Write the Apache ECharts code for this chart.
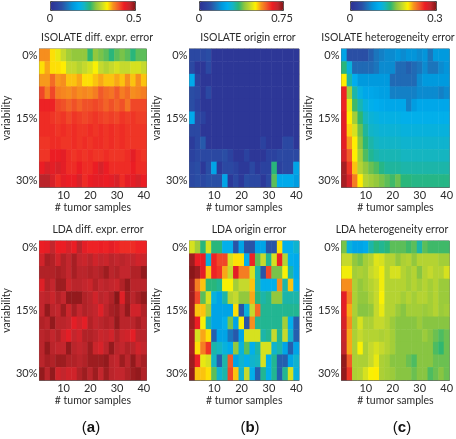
<html style="height: 100%">
<head>
	<meta charset="utf-8">
	<script type="text/javascript" src="https://cdn.jsdelivr.net/npm/echarts@6/dist/echarts.min.js"></script>
</head>

<body style="height: 100%; margin: 0; background: #fff">
	<div id="container" style="height:439px;width:456px"></div>
</body>

<script type="text/javascript">
	// axis categories
	const samples = [2, 4, 6, 8, 10, 12, 14, 16, 18, 20, 22, 24, 26, 28, 30, 32, 34, 36, 38, 40];
	const variability = ['0%', '3%', '6%', '9%', '12%', '15%', '18%', '21%', '24%', '27%', '30%'];

	// colourbar maxima per column
	const scaleA = 0.5;
	const scaleB = 0.75;
	const scaleC = 0.3;

	// cell values, as % of the colourbar range
	const isolateDiff = [
		[74, 74, 68, 64, 60, 56, 54, 54, 54, 47, 54, 52, 50, 46, 50, 52, 50, 46, 50, 50],
		[68, 72, 68, 68, 67, 60, 60, 58, 60, 62, 66, 60, 58, 60, 62, 60, 60, 62, 62, 60],
		[73, 73, 78, 73, 74, 70, 70, 72, 68, 68, 70, 72, 70, 70, 72, 70, 74, 70, 74, 70],
		[82, 76, 82, 76, 75, 74, 76, 74, 75, 74, 76, 80, 78, 77, 80, 76, 78, 74, 75, 76],
		[86, 86, 86, 82, 81, 79, 81, 79, 81, 81, 82, 81, 79, 81, 79, 81, 77, 82, 82, 82],
		[85, 85, 84, 83, 84, 82, 84, 83, 82, 83, 84, 83, 82, 83, 82, 84, 83, 84, 83, 83],
		[85, 85, 85, 84, 85, 84, 85, 84, 84, 85, 84, 85, 84, 85, 84, 85, 84, 84, 84, 84],
		[84, 84, 85, 85, 84, 84, 85, 84, 85, 84, 85, 85, 84, 85, 84, 85, 84, 84, 84, 84],
		[84, 84, 87, 87, 88, 85, 84, 85, 84, 85, 84, 84, 85, 84, 84, 84, 85, 88, 85, 84],
		[87, 90, 88, 90, 88, 85, 85, 87, 85, 85, 87, 90, 87, 85, 85, 85, 85, 87, 85, 85],
		[94, 94, 90, 85, 88, 87, 87, 90, 85, 87, 88, 88, 87, 88, 90, 85, 88, 88, 90, 87]
	];
	const isolateOrigin = [
		[10, 10, 10, 12, 3, 3, 3, 3, 3, 3, 3, 3, 3, 3, 3, 3, 3, 3, 3, 3],
		[10, 3, 3, 10, 3, 3, 3, 3, 3, 3, 3, 3, 3, 3, 3, 3, 3, 3, 3, 3],
		[32, 8, 3, 3, 3, 3, 3, 3, 3, 3, 3, 3, 3, 3, 3, 3, 3, 3, 3, 3],
		[12, 10, 3, 10, 3, 3, 3, 3, 3, 3, 3, 3, 3, 3, 3, 3, 3, 3, 3, 3],
		[12, 8, 3, 3, 3, 3, 3, 3, 3, 3, 3, 3, 3, 3, 3, 3, 3, 3, 3, 3],
		[32, 10, 8, 3, 3, 3, 3, 3, 3, 3, 3, 3, 3, 3, 3, 3, 3, 3, 3, 3],
		[10, 10, 3, 3, 3, 3, 3, 3, 3, 3, 3, 3, 3, 3, 3, 3, 3, 3, 3, 3],
		[5, 10, 15, 3, 3, 3, 3, 3, 3, 3, 3, 3, 3, 8, 3, 3, 3, 10, 10, 3],
		[8, 10, 10, 10, 10, 10, 12, 8, 3, 3, 8, 3, 3, 3, 8, 8, 10, 10, 10, 10],
		[10, 12, 4, 12, 30, 4, 10, 10, 8, 4, 4, 10, 4, 8, 8, 46, 8, 10, 10, 30],
		[10, 12, 10, 13, 13, 13, 30, 4, 10, 4, 12, 10, 10, 4, 10, 50, 32, 32, 32, 28]
	];
	const isolateHetero = [
		[30, 13, 13, 13, 13, 16, 20, 22, 24, 24, 26, 24, 26, 26, 24, 26, 20, 27, 27, 27],
		[46, 36, 18, 18, 18, 18, 20, 24, 24, 24, 18, 18, 16, 18, 20, 24, 20, 20, 24, 26],
		[67, 42, 33, 27, 27, 27, 27, 27, 27, 18, 18, 18, 18, 18, 24, 27, 27, 27, 27, 27],
		[86, 56, 42, 35, 31, 31, 30, 29, 29, 22, 22, 22, 22, 22, 24, 24, 24, 24, 22, 24],
		[86, 64, 48, 41, 36, 34, 33, 32, 31, 31, 31, 31, 22, 28, 31, 31, 31, 31, 31, 31],
		[88, 67, 56, 47, 40, 37, 36, 35, 35, 35, 35, 34, 34, 34, 34, 34, 34, 34, 34, 34],
		[88, 69, 62, 51, 43, 39, 38, 37, 37, 37, 37, 36, 36, 36, 36, 36, 36, 36, 36, 36],
		[88, 73, 67, 53, 46, 42, 40, 39, 39, 39, 39, 38, 38, 38, 38, 38, 38, 38, 38, 38],
		[90, 80, 67, 56, 49, 44, 42, 41, 41, 41, 41, 40, 40, 40, 40, 40, 40, 40, 40, 40],
		[96, 84, 70, 58, 54, 51, 49, 45, 43, 43, 43, 42, 42, 42, 42, 42, 42, 42, 42, 42],
		[96, 90, 76, 67, 58, 56, 54, 52, 50, 48, 51, 46, 46, 45, 45, 45, 45, 45, 45, 45]
	];
	const ldaDiff = [
		[87, 88, 93, 87, 87, 90, 87, 94, 88, 86, 86, 87, 86, 88, 86, 85, 85, 85, 86, 86],
		[91, 96, 95, 91, 95, 93, 96, 93, 92, 94, 91, 93, 92, 94, 93, 94, 93, 93, 91, 92],
		[95, 95, 95, 96, 95, 93, 96, 94, 94, 95, 94, 95, 97, 94, 95, 93, 93, 95, 95, 98],
		[89, 95, 93, 97, 97, 92, 94, 94, 93, 92, 95, 93, 94, 93, 92, 95, 98, 94, 94, 94],
		[93, 94, 92, 95, 93, 98, 98, 98, 95, 94, 91, 94, 93, 95, 99, 89, 97, 94, 96, 98],
		[93, 98, 94, 93, 97, 92, 96, 93, 95, 94, 93, 89, 94, 96, 97, 94, 98, 91, 91, 95],
		[95, 94, 98, 94, 94, 93, 88, 91, 88, 95, 93, 94, 95, 94, 98, 94, 94, 94, 96, 94],
		[94, 95, 93, 95, 91, 88, 93, 91, 95, 95, 94, 92, 93, 91, 95, 92, 91, 88, 94, 94],
		[94, 98, 94, 93, 93, 98, 94, 93, 94, 97, 92, 90, 94, 98, 94, 93, 95, 94, 91, 93],
		[94, 96, 95, 97, 97, 95, 95, 94, 95, 97, 97, 97, 98, 94, 93, 97, 94, 98, 94, 96],
		[98, 94, 98, 91, 93, 91, 91, 95, 97, 94, 97, 93, 97, 94, 93, 93, 95, 97, 98, 95]
	];
	const ldaOrigin = [
		[62, 56, 46, 62, 46, 46, 34, 34, 14, 30, 14, 14, 30, 30, 14, 14, 68, 34, 34, 38],
		[97, 87, 87, 36, 86, 82, 82, 62, 68, 68, 34, 86, 50, 60, 44, 62, 86, 58, 34, 32],
		[99, 97, 88, 70, 86, 84, 72, 60, 88, 76, 76, 62, 42, 14, 82, 52, 52, 66, 42, 32],
		[97, 76, 70, 46, 46, 44, 66, 66, 56, 60, 60, 70, 42, 34, 34, 34, 74, 42, 70, 34],
		[97, 82, 50, 62, 36, 30, 42, 58, 60, 54, 54, 72, 46, 42, 44, 54, 54, 42, 42, 42],
		[97, 70, 70, 56, 30, 30, 30, 30, 68, 14, 36, 60, 78, 44, 44, 44, 44, 44, 44, 44],
		[97, 87, 66, 42, 30, 30, 34, 52, 30, 66, 14, 74, 44, 44, 44, 44, 44, 56, 34, 16],
		[96, 62, 72, 68, 16, 30, 30, 20, 15, 30, 62, 62, 62, 42, 44, 60, 44, 60, 38, 16],
		[96, 68, 76, 84, 42, 40, 36, 32, 54, 36, 50, 34, 42, 62, 62, 38, 42, 30, 16, 30],
		[97, 86, 64, 62, 40, 16, 42, 80, 30, 38, 34, 38, 40, 62, 34, 44, 16, 16, 30, 38],
		[98, 70, 70, 68, 50, 38, 42, 82, 70, 38, 60, 34, 16, 44, 34, 44, 16, 44, 62, 36]
	];
	const ldaHetero = [
		[52, 36, 30, 30, 32, 42, 46, 44, 46, 50, 50, 50, 48, 50, 42, 50, 48, 48, 48, 48],
		[60, 60, 54, 52, 56, 58, 63, 62, 58, 58, 54, 57, 58, 54, 58, 58, 58, 58, 56, 56],
		[65, 65, 56, 57, 56, 60, 62, 65, 58, 62, 62, 58, 56, 58, 53, 58, 60, 58, 58, 62],
		[74, 74, 57, 54, 56, 58, 60, 65, 58, 58, 58, 58, 56, 58, 56, 58, 56, 58, 55, 55],
		[88, 76, 57, 54, 54, 57, 60, 66, 58, 58, 58, 56, 58, 56, 58, 58, 56, 58, 55, 55],
		[88, 72, 57, 53, 53, 54, 60, 64, 58, 58, 55, 53, 56, 56, 56, 55, 56, 58, 55, 56],
		[90, 74, 56, 62, 57, 57, 60, 60, 58, 55, 53, 53, 53, 53, 55, 53, 53, 53, 53, 53],
		[92, 72, 57, 60, 58, 58, 58, 57, 58, 56, 53, 53, 53, 53, 53, 55, 53, 51, 49, 51],
		[93, 72, 57, 66, 57, 60, 62, 60, 58, 56, 53, 53, 53, 53, 53, 53, 53, 49, 47, 51],
		[98, 80, 57, 57, 57, 60, 64, 57, 56, 53, 53, 53, 51, 49, 53, 53, 53, 51, 51, 51],
		[98, 84, 57, 58, 62, 66, 67, 57, 56, 55, 53, 53, 53, 51, 53, 53, 49, 51, 53, 51]
	];

	// jet like colours of the printed colourbar
	const jet = ['#2e3192', '#2b3f9e', '#2a50a5', '#1b75bc', '#0099dd', '#00aeef', '#15b5c0', '#2bb673', '#8dc63f', '#c5d92d', '#fff200', '#f7941d', '#f15a29', '#ed1c24', '#c1272d', '#7f1416'];

	const textColor = '#2b2b2b';
	const fontFamily = 'Lato, sans-serif';
	const tickSize = 11;
	const textSize = 10.5;

	var myChart = echarts.init(document.getElementById('container'));

	// grid rectangles: left, top, width, height
	const panels = [
		{ title: 'ISOLATE diff. expr. error', titleX: 97, titleY: 38, box: [37.5, 49, 109, 138], cells: isolateDiff, scale: scaleA },
		{ title: 'ISOLATE origin error', titleX: 248, titleY: 38, box: [189.5, 49, 109.5, 138], cells: isolateOrigin, scale: scaleB },
		{ title: 'ISOLATE heterogeneity error', titleX: 388, titleY: 38, box: [341.5, 49, 110, 138], cells: isolateHetero, scale: scaleC },
		{ title: 'LDA diff. expr. error', titleX: 98, titleY: 230, box: [37.5, 241, 109, 139], cells: ldaDiff, scale: scaleA },
		{ title: 'LDA origin error', titleX: 249, titleY: 230, box: [189.5, 241, 109.5, 139], cells: ldaOrigin, scale: scaleB },
		{ title: 'LDA heterogeneity error', titleX: 392, titleY: 230, box: [341.5, 241, 110, 139], cells: ldaHetero, scale: scaleC }
	];

	const bars = [
		{ left: 50, width: 85, max: scaleA },
		{ left: 199, width: 84, max: scaleB },
		{ left: 350, width: 86, max: scaleC }
	];

	function toCells(rows, scale) {
		let out = [];
		rows.forEach((row, r) => row.forEach((v, c) => out.push([c, r, v / 100 * scale])));
		return out;
	}

	function label(text, x, y, size) {
		return {
			text: text, left: x, top: y, textAlign: 'center', textVerticalAlign: 'middle', padding: 0,
			textStyle: { fontFamily: fontFamily, fontSize: size, fontWeight: 'normal', color: textColor }
		};
	}

	let titles = [];
	panels.forEach(p => titles.push(label(p.title, p.titleX, p.titleY, textSize)));
	bars.forEach(b => {
		titles.push(label('0', b.left, 18, tickSize));
		titles.push(label(String(b.max), b.left + b.width - 1, 18, tickSize));
	});
	['a', 'b', 'c'].forEach((s, i) => {
		titles.push({
			text: '({b|' + s + '})', left: [91, 250, 402][i], top: 428, textAlign: 'center', textVerticalAlign: 'middle', padding: 0,
			textStyle: {
				fontFamily: 'Liberation Sans', fontSize: 15, color: '#111', fontWeight: 'normal',
				rich: { b: { fontFamily: 'Liberation Sans', fontSize: 15, fontWeight: 'bold', color: '#111' } }
			}
		});
	});

	var option = {
		animation: false,
		backgroundColor: '#fff',
		title: titles,
		visualMap: bars.map((b, i) => ({
			type: 'continuous',
			min: 0,
			max: b.max,
			seriesIndex: [i, i + 3],
			orient: 'horizontal',
			left: b.left,
			top: 1,
			itemWidth: 9,
			itemHeight: b.width,
			padding: 0,
			text: null,
			showLabel: false,
			calculable: false,
			hoverLink: false,
			borderColor: '#444',
			borderWidth: 1,
			inRange: { color: jet }
		})),
		grid: panels.map(p => ({
			left: p.box[0], top: p.box[1], width: p.box[2], height: p.box[3],
			show: true, borderColor: '#666', borderWidth: 1, backgroundColor: '#fff'
		})),
		xAxis: panels.map((p, i) => ({
			type: 'category',
			gridIndex: i,
			data: samples,
			name: '# tumor samples',
			nameLocation: 'middle',
			nameGap: 15,
			nameTextStyle: { fontFamily: fontFamily, fontSize: textSize, color: textColor },
			axisLine: { lineStyle: { color: '#666' } },
			axisTick: { show: false },
			axisLabel: {
				interval: idx => (idx + 1) % 5 === 0,
				margin: 3,
				fontFamily: fontFamily, fontSize: tickSize, color: textColor
			}
		})),
		yAxis: panels.map((p, i) => ({
			type: 'category',
			gridIndex: i,
			inverse: true,
			data: variability,
			name: 'variability',
			nameLocation: 'middle',
			nameGap: 22,
			nameRotate: 90,
			nameTextStyle: { fontFamily: fontFamily, fontSize: textSize, color: textColor },
			axisLine: { lineStyle: { color: '#666' } },
			axisTick: { show: false },
			axisLabel: {
				interval: 4,
				margin: 2,
				fontFamily: fontFamily, fontSize: tickSize, color: textColor
			}
		})),
		series: [0, 1, 2, 3, 4, 5].map(i => ({
			type: 'heatmap',
			xAxisIndex: i,
			yAxisIndex: i,
			data: toCells(panels[i].cells, panels[i].scale),
			emphasis: { disabled: true }
		}))
	};

	myChart.setOption(option);
</script>

</html>
